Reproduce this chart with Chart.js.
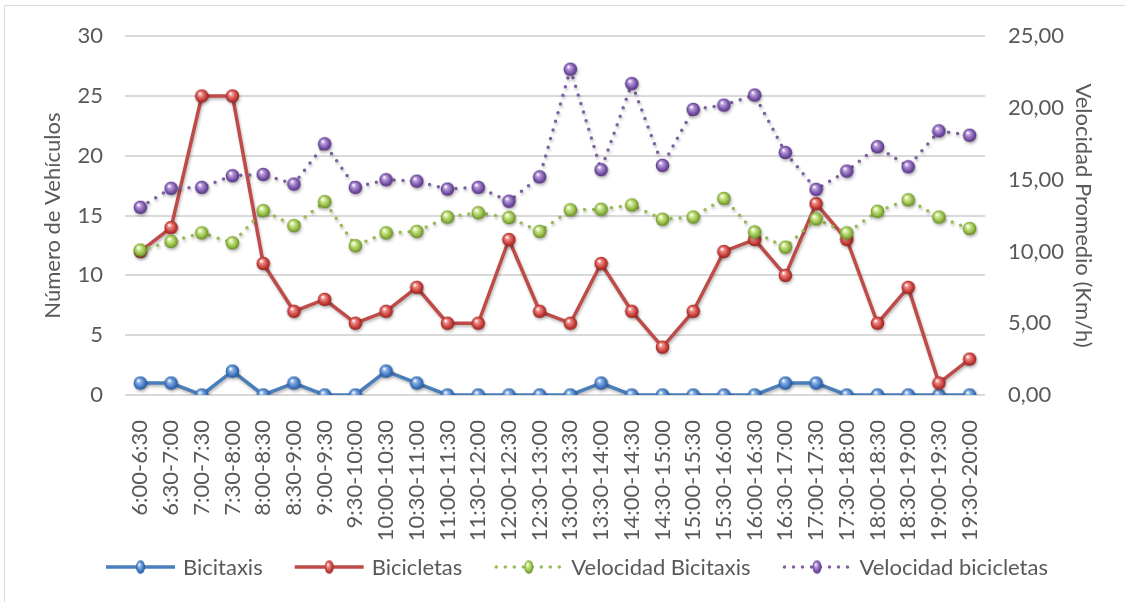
<!DOCTYPE html>
<html>
<head>
<meta charset="utf-8">
<script src="https://cdn.jsdelivr.net/npm/chart.js@4.4.1/dist/chart.umd.min.js"></script>
<style>
  html, body { margin: 0; padding: 0; background: #fff; }
  #wrap { position: relative; width: 1125px; height: 602px; overflow: hidden; }
  #frame { position: absolute; left: 4px; top: 5px; width: 1200px; height: 700px;
           border-left: 1.5px solid #d9d9d9; border-top: 1.5px solid #d9d9d9; }
  canvas { position: absolute; left: 0; top: 0; }
</style>
</head>
<body>
<div id="wrap">
  <div id="frame"></div>
  <canvas id="chart" width="1125" height="602"></canvas>
</div>
<script>
const categories = ['6:00-6:30', '6:30-7:00', '7:00-7:30', '7:30-8:00', '8:00-8:30', '8:30-9:00',
  '9:00-9:30', '9:30-10:00', '10:00-10:30', '10:30-11:00', '11:00-11:30', '11:30-12:00',
  '12:00-12:30', '12:30-13:00', '13:00-13:30', '13:30-14:00', '14:00-14:30', '14:30-15:00',
  '15:00-15:30', '15:30-16:00', '16:00-16:30', '16:30-17:00', '17:00-17:30', '17:30-18:00',
  '18:00-18:30', '18:30-19:00', '19:00-19:30', '19:30-20:00'];

const bicitaxis = [1, 1, 0, 2, 0, 1, 0, 0, 2, 1, 0, 0, 0, 0, 0, 1, 0, 0, 0, 0, 0, 1, 1, 0, 0, 0, 0, 0];
const bicicletas = [12, 14, 25, 25, 11, 7, 8, 6, 7, 9, 6, 6, 13, 7, 6, 11, 7, 4, 7, 12, 13, 10, 16, 13, 6, 9, 1, 3];
const velBicitaxis = [10.1, 10.7, 11.3, 10.6, 12.85, 11.8, 13.47, 10.4, 11.3, 11.4, 12.4, 12.7,
  12.36, 11.4, 12.9, 12.94, 13.24, 12.25, 12.4, 13.7, 11.36, 10.3, 12.27, 11.3, 12.8, 13.6, 12.4, 11.6];
const velBicicletas = [13.08, 14.4, 14.47, 15.28, 15.37, 14.7, 17.5, 14.47, 15.0, 14.9, 14.35, 14.47,
  13.5, 15.2, 22.7, 15.7, 21.7, 16.0, 19.9, 20.2, 20.9, 16.9, 14.33, 15.6, 17.3, 15.9, 18.4, 18.1];

const leftTicks = [0, 5, 10, 15, 20, 25, 30];
const rightTicks = [0, 5, 10, 15, 20, 25];

const FONT = 'Lato, "Open Sans", sans-serif';
const TEXT = '#595959';
const SIZE = 22;

// shiny ball marker
function sphere(base, light, dark) {
  const c = document.createElement('canvas');
  c.width = c.height = 15;
  const g = c.getContext('2d');
  const grd = g.createRadialGradient(5.5, 5, 0.5, 7.5, 7.5, 7.2);
  grd.addColorStop(0, '#ffffff');
  grd.addColorStop(0.22, light);
  grd.addColorStop(0.7, base);
  grd.addColorStop(1, dark);
  g.fillStyle = grd;
  g.beginPath();
  g.arc(7.5, 7.5, 6.8, 0, Math.PI * 2);
  g.fill();
  return c;
}

const series = [
  { label: 'Bicitaxis', color: '#4a7ebb', dotted: false, marker: sphere('#3f76c0', '#8fb6e8', '#1f4f8f') },
  { label: 'Bicicletas', color: '#be4b48', dotted: false, marker: sphere('#c63a36', '#ee8f8b', '#8a1d1a') },
  { label: 'Velocidad Bicitaxis', color: '#98b954', dotted: true, marker: sphere('#8fb840', '#d3ec97', '#5a7d1e') },
  { label: 'Velocidad bicicletas', color: '#7d60a0', dotted: true, marker: sphere('#7650a6', '#bba0de', '#4a2c73') }
];

function dataset(s, data, axis, order) {
  return {
    label: s.label,
    data: data,
    yAxisID: axis,
    order: order,
    borderColor: s.color,
    borderWidth: 3.5,
    borderDash: s.dotted ? [0, 9] : [],
    borderCapStyle: 'round',
    borderJoinStyle: 'round',
    tension: 0,
    fill: false,
    pointStyle: s.marker,
    pointRadius: 7,
    pointHoverRadius: 7
  };
}

const shadowPlugin = {
  id: 'shadow',
  beforeDatasetDraw(chart) {
    const ctx = chart.ctx;
    ctx.save();
    ctx.shadowColor = 'rgba(0,0,0,0.28)';
    ctx.shadowBlur = 3;
    ctx.shadowOffsetX = 1;
    ctx.shadowOffsetY = 2;
  },
  afterDatasetDraw(chart) {
    chart.ctx.restore();
  }
};

// legend row: line sample with ball, then the label
const legendPlugin = {
  id: 'lineLegend',
  afterDraw(chart) {
    const ctx = chart.ctx;
    const y = 567;
    const sample = 69, gapText = 8, gapItem = 32;
    ctx.save();
    ctx.font = '22px ' + FONT;
    const widths = series.map(s => ctx.measureText(s.label).width);
    const total = widths.reduce((a, w) => a + sample + gapText + w, 0) + gapItem * (series.length - 1);
    let x = 577 - total / 2;
    series.forEach((s, i) => {
      ctx.strokeStyle = s.color;
      ctx.lineWidth = 3.5;
      ctx.lineCap = s.dotted ? 'round' : 'butt';
      ctx.setLineDash(s.dotted ? [0, 9] : []);
      ctx.beginPath();
      ctx.moveTo(x + (s.dotted ? 2 : 0), y);
      ctx.lineTo(x + sample, y);
      ctx.stroke();
      ctx.setLineDash([]);
      ctx.drawImage(s.marker, x + sample / 2 - 5, y - 7.5, 10, 15);
      ctx.fillStyle = TEXT;
      ctx.textBaseline = 'middle';
      ctx.textAlign = 'left';
      ctx.fillText(s.label, x + sample + gapText, y + 1);
      x += sample + gapText + widths[i] + gapItem;
    });
    ctx.restore();
  }
};

new Chart(document.getElementById('chart'), {
  type: 'line',
  data: {
    labels: categories,
    datasets: [
      dataset(series[0], bicitaxis, 'y', 3),
      dataset(series[1], bicicletas, 'y', 2),
      dataset(series[2], velBicitaxis, 'y1', 1),
      dataset(series[3], velBicicletas, 'y1', 0)
    ]
  },
  options: {
    responsive: false,
    animation: false,
    devicePixelRatio: 1,
    layout: { padding: { top: 35, left: 0, right: 0, bottom: 0 } },
    plugins: { legend: { display: false }, tooltip: { enabled: false } },
    scales: {
      x: {
        offset: true,
        grid: { display: false },
        border: { display: false },
        ticks: {
          autoSkip: false, minRotation: 90, maxRotation: 90, padding: 17,
          color: TEXT, font: { family: FONT, size: SIZE }
        },
        afterFit(s) { s.height = 207; }
      },
      y: {
        position: 'left',
        min: 0, max: 30,
        afterBuildTicks(s) { s.ticks = leftTicks.map(v => ({ value: v })); },
        grid: { color: '#d9d9d9', lineWidth: 2, drawTicks: false },
        border: { display: false },
        ticks: { padding: 22, color: TEXT, font: { family: FONT, size: SIZE } },
        title: {
          display: true, text: 'Número de Vehículos', color: TEXT,
          font: { family: FONT, size: SIZE }, padding: { top: 40, bottom: 0 }
        },
        afterFit(s) { s.width = 125; }
      },
      y1: {
        position: 'right',
        min: 0, max: 25,
        afterBuildTicks(s) { s.ticks = rightTicks.map(v => ({ value: v })); },
        grid: { display: false, drawTicks: false },
        border: { display: false },
        ticks: {
          padding: 23, color: TEXT, font: { family: FONT, size: SIZE },
          callback: v => v.toFixed(2).replace('.', ',')
        },
        title: {
          display: true, text: 'Velocidad Promedio (Km/h)', color: TEXT,
          font: { family: FONT, size: SIZE }, padding: { top: 29, bottom: 0 }
        },
        afterFit(s) { s.width = 140; }
      }
    }
  },
  plugins: [shadowPlugin, legendPlugin]
});
</script>
</body>
</html>
